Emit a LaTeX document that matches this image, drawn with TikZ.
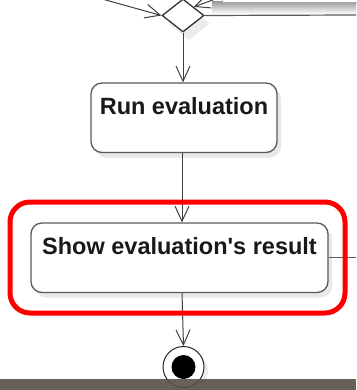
\documentclass[tikz,border=0pt]{standalone}
\usepackage{fontspec}
\newfontfamily\actfont{Liberation Sans}
\usetikzlibrary{shapes.geometric,arrows.meta,shadows}
\definecolor{edge}{RGB}{90,90,90}
\definecolor{band}{RGB}{88,80,72}
\begin{document}
\begin{tikzpicture}[x=1pt, y=-1pt,
	act/.style={draw=edge, line width=1.3pt, fill=white, rounded corners=11pt,
		inner xsep=0pt, inner ysep=0pt, text height=31.5pt, text depth=38pt,
		font=\actfont\bfseries\fontsize{23.5}{28}\selectfont, text=black!90,
		drop shadow={shadow xshift=4pt, shadow yshift=-5pt, fill=gray!18, opacity=1}},
	flow/.style={draw=black!75, line width=1pt, -{Straight Barb[length=15pt,width=14pt]}}]
	\useasboundingbox (0,0) rectangle (356,390);
	\shade[top color=gray!75, bottom color=white] (212,2) rectangle (356,14);
	\filldraw[fill=white, draw=gray!70] (222,-10) rectangle (360,2);
	\node[diamond, aspect=1.27, minimum width=42pt, minimum height=33pt, inner sep=0pt,
		draw=black!80, line width=1.3pt, fill=white,
		drop shadow={shadow xshift=6pt, shadow yshift=-8pt, fill=gray!15, opacity=1}] (dec) at (183,15.5) {};
	\node[act, minimum width=186pt] (run) at (184,117.75) {Run evaluation};
	\node[act, minimum width=297pt] (show) at (179.5,257.75) {Show evaluation's result};
	\node[circle, minimum size=41pt, inner sep=0pt, draw=black!85, line width=1pt, fill=white,
		drop shadow={shadow xshift=4pt, shadow yshift=-4pt, fill=gray!15, opacity=1}] (final) at (183.5,367) {};
	\fill[black] (final) circle (12pt);
	\coordinate (in1) at (95,-3);
	\coordinate (in2) at (240,-10);
	\coordinate (out1) at (356,15);
	\coordinate (axis) at (182,0);
	\draw[flow] (in1) -- (dec.west);
	\draw[flow] (in2) -- (dec.north east);
	\draw[edge, line width=1.2pt] (dec.east) -- (out1);
	\draw[flow] (dec.south) -- (dec.south |- run.north);
	\draw[flow] (run.south -| axis) -- (show.north -| axis);
	\draw[edge, line width=1.2pt] (show.east) -- (show.east -| out1);
	\draw[flow] (show.south -| axis) -- (final.north);
	\draw[red, line width=5pt, rounded corners=20pt] (10,202) rectangle (345,313);
	\fill[band, opacity=0.9] (0,379) rectangle (356,390);
\end{tikzpicture}
\end{document}
